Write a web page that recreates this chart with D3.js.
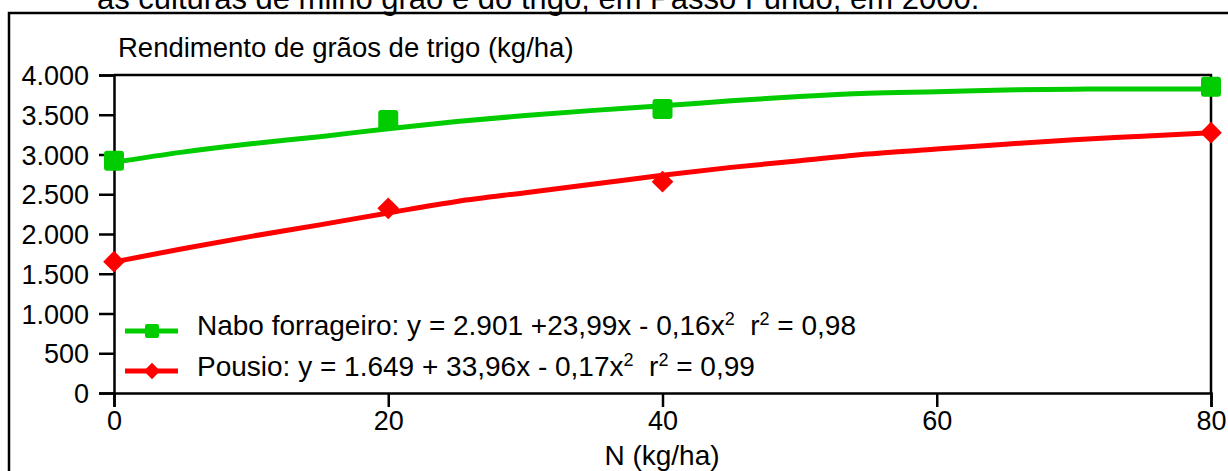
<!DOCTYPE html>
<html>
<head>
<meta charset="utf-8">
<script src="https://cdn.jsdelivr.net/npm/d3@7"></script>
<style>
  body { margin: 0; background: #fff; }
  svg text { font-family: Arial, "Liberation Sans", sans-serif; fill: #000; }
</style>
</head>
<body>
<script>
//chart values
var doses = [0, 20, 40, 80];
var naboObs = [2920, 3434, 3572, 3853];
var pousioObs = [1652, 2323, 2658, 3274];

//fitted curves
var curveN = [0, 5, 10, 15, 20, 25, 30, 35, 40, 45, 50, 55, 60, 65, 70, 75, 80];
var naboFit = [2901, 3030, 3135, 3224, 3325, 3415, 3490, 3555, 3612, 3676, 3730, 3770, 3790, 3812, 3822, 3824, 3824];
var pousioFit = [1649, 1815, 1970, 2115, 2265, 2410, 2520, 2628, 2740, 2838, 2922, 3005, 3070, 3130, 3185, 3230, 3274];

var yTicks = [0, 500, 1000, 1500, 2000, 2500, 3000, 3500, 4000];
var xTicks = [0, 20, 40, 60, 80];

var captionText = "as culturas de milho grão e do trigo, em Passo Fundo, em 2000.";
var yTitle = "Rendimento de grãos de trigo (kg/ha)";
var xTitle = "N (kg/ha)";

window.onload = drawChart;

function drawChart(){

    var width = 1228,
        height = 471;

    var svg = d3.select("body")
        .append("svg")
        .attr("width", width)
        .attr("height", height);

    //caption line that is cut at the top
    svg.append("text")
        .attr("x", 97)
        .attr("y", 9)
        .style("font-size", "31px")
        .text(captionText);

    //outer frame
    svg.append("rect")
        .attr("x", 9)
        .attr("y", 13)
        .attr("width", 1240)
        .attr("height", 480)
        .attr("fill", "none")
        .attr("stroke", "#000")
        .attr("stroke-width", 2.5);

    var x = d3.scaleLinear().domain([0, 80]).range([114, 1211]);
    var y = d3.scaleLinear().domain([0, 4000]).range([393, 75]);

    //plot frame top and right
    svg.append("path")
        .attr("d", "M" + x(0) + "," + y(4000) + "H" + x(80) + "V" + y(0))
        .attr("fill", "none")
        .attr("stroke", "#000")
        .attr("stroke-width", 2.5);

    var fmt = function(d){ return d3.format(",")(d).replace(/,/g, "."); };

    var yAxis = svg.append("g")
        .attr("transform", "translate(" + x(0) + ",0)")
        .call(d3.axisLeft(y).tickValues(yTicks).tickSize(15).tickPadding(10).tickFormat(fmt));

    var xAxis = svg.append("g")
        .attr("transform", "translate(0," + y(0) + ")")
        .call(d3.axisBottom(x).tickValues(xTicks).tickSize(14).tickPadding(4));

    [yAxis, xAxis].forEach(function(g){
        g.select(".domain").attr("stroke", "#000").attr("stroke-width", 2.5);
        g.selectAll(".tick line").attr("stroke", "#000").attr("stroke-width", 2.5);
        g.selectAll(".tick text").style("font-size", "27px").attr("fill", "#000");
    });
    yAxis.selectAll(".tick text").attr("dy", "0.36em");

    svg.append("text")
        .attr("x", 118)
        .attr("y", 57)
        .style("font-size", "27.5px")
        .text(yTitle);

    svg.append("text")
        .attr("x", 662)
        .attr("y", 465)
        .attr("text-anchor", "middle")
        .style("font-size", "28px")
        .text(xTitle);

    var green = "#00cc00",
        red = "#ff0000";

    var line = d3.line()
        .x(function(d){ return x(d[0]); })
        .y(function(d){ return y(d[1]); })
        .curve(d3.curveMonotoneX);

    svg.append("path")
        .datum(d3.zip(curveN, naboFit))
        .attr("d", line)
        .attr("fill", "none")
        .attr("stroke", green)
        .attr("stroke-width", 5);

    svg.append("path")
        .datum(d3.zip(curveN, pousioFit))
        .attr("d", line)
        .attr("fill", "none")
        .attr("stroke", red)
        .attr("stroke-width", 5);

    //observed points
    svg.selectAll(".nabo")
        .data(d3.zip(doses, naboObs))
        .enter()
        .append("rect")
        .attr("class", "nabo")
        .attr("x", function(d){ return x(d[0]) - 10; })
        .attr("y", function(d){ return y(d[1]) - 10; })
        .attr("width", 20)
        .attr("height", 20)
        .attr("rx", 3)
        .attr("fill", green);

    var diamond = d3.symbol().type(d3.symbolDiamond2).size(300);

    svg.selectAll(".pousio")
        .data(d3.zip(doses, pousioObs))
        .enter()
        .append("path")
        .attr("class", "pousio")
        .attr("d", diamond)
        .attr("transform", function(d){ return "translate(" + x(d[0]) + "," + y(d[1]) + ")"; })
        .attr("fill", red);

    //legend
    var legend = [
        {color: green, ly: 331, ty: 335, parts: ["Nabo forrageiro: y = 2.901 +23,99x - 0,16x", "2", "  r", "2", " = 0,98"]},
        {color: red, ly: 371, ty: 376, parts: ["Pousio: y = 1.649 + 33,96x - 0,17x", "2", "  r", "2", " = 0,99"]}
    ];

    legend.forEach(function(item, i){
        svg.append("line")
            .attr("x1", 125).attr("x2", 178)
            .attr("y1", item.ly).attr("y2", item.ly)
            .attr("stroke", item.color)
            .attr("stroke-width", 5);
        if (i == 0) {
            svg.append("rect")
                .attr("x", 145).attr("y", item.ly - 7)
                .attr("width", 14).attr("height", 14)
                .attr("rx", 2)
                .attr("fill", item.color);
        } else {
            svg.append("path")
                .attr("d", d3.symbol().type(d3.symbolDiamond2).size(170))
                .attr("transform", "translate(152," + item.ly + ")")
                .attr("fill", item.color);
        }
        var t = svg.append("text")
            .attr("x", 197)
            .attr("y", item.ty)
            .style("font-size", "28px")
            .attr("xml:space", "preserve")
            .style("white-space", "pre");
        item.parts.forEach(function(p, k){
            var sup = (k % 2 == 1);
            t.append("tspan")
                .attr("dy", sup ? -10 : (k > 0 ? 10 : 0))
                .style("font-size", sup ? "18px" : "28px")
                .text(p);
        });
    });
}
</script>
</body>
</html>
